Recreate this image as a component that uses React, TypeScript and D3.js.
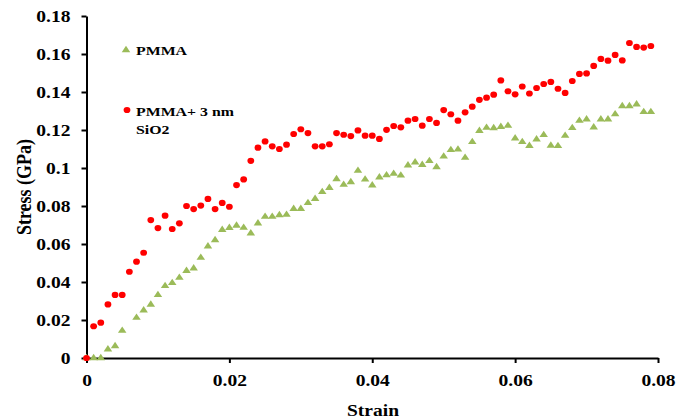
import * as d3 from 'd3';
import React, { useEffect, useRef } from 'react';

const strain = [
  0, 0.001, 0.002, 0.003, 0.004, 0.005, 0.006, 0.007, 0.008, 0.009,
  0.010, 0.011, 0.012, 0.013, 0.014, 0.015, 0.016, 0.017, 0.018, 0.019,
  0.020, 0.021, 0.022, 0.023, 0.024, 0.025, 0.026, 0.027, 0.028, 0.029,
  0.030, 0.031, 0.032, 0.033, 0.034, 0.035, 0.036, 0.037, 0.038, 0.039,
  0.040, 0.041, 0.042, 0.043, 0.044, 0.045, 0.046, 0.047, 0.048, 0.049,
  0.050, 0.051, 0.052, 0.053, 0.054, 0.055, 0.056, 0.057, 0.058, 0.059,
  0.060, 0.061, 0.062, 0.063, 0.064, 0.065, 0.066, 0.067, 0.068, 0.069,
  0.070, 0.071, 0.072, 0.073, 0.074, 0.075, 0.076, 0.077, 0.078, 0.079
];

// PMMA (green triangles), null = no point
const pmma = [
  0, 0, 0, 0.0046, 0.0063, 0.0144, null, 0.0212, 0.0251, 0.0281,
  0.0332, 0.0379, 0.0395, 0.0423, 0.0459, 0.0472, 0.0528, 0.0588, 0.0621, 0.0675,
  0.0685, 0.0697, 0.0686, 0.0656, 0.0709, 0.0744, 0.0744, 0.0752, 0.0754, 0.0785,
  0.0785, 0.0816, 0.0838, 0.0874, 0.0896, 0.0942, 0.0912, 0.0926, 0.0986, 0.0940,
  0.0909, 0.0951, 0.0962, 0.0970, 0.0961, 0.1014, 0.1030, 0.1017, 0.1037, 0.1005,
  0.1061, 0.1095, 0.1098, 0.1054, 0.1137, 0.1196, 0.1212, 0.1210, 0.1217, 0.1223,
  0.1156, 0.1137, 0.1117, 0.1151, 0.1174, 0.1118, 0.1116, 0.1170, 0.1211, 0.1249,
  0.1256, 0.1214, 0.1256, 0.1256, 0.1283, 0.1326, 0.1326, 0.1335, 0.1295, 0.1295
];

// PMMA + 3 nm SiO2 (red circles)
const pmmaSio2 = [
  0, 0.0167, 0.0186, 0.0282, 0.0332, 0.0332, 0.0454, 0.0507, 0.0554, 0.0726,
  0.0684, 0.0749, 0.0679, 0.0709, 0.0800, 0.0784, 0.0802, 0.0837, 0.0784, 0.0816,
  0.0796, 0.0910, 0.0940, 0.1038, 0.1107, 0.1140, 0.1114, 0.1100, 0.1123, 0.1179,
  0.1204, 0.1184, 0.1114, 0.1114, 0.1125, 0.1184, 0.1175, 0.1168, 0.1198, 0.1170,
  0.1170, 0.1153, 0.1201, 0.1221, 0.1214, 0.1249, 0.1258, 0.1223, 0.1258, 0.1237,
  0.1305, 0.1283, 0.1249, 0.1293, 0.1323, 0.1359, 0.1370, 0.1386, 0.1461, 0.1404,
  0.1388, 0.1429, 0.1392, 0.1421, 0.1442, 0.1453, 0.1417, 0.1395, 0.1458, 0.1495,
  0.1498, 0.1537, 0.1574, 0.1565, 0.1595, 0.1566, 0.1658, 0.1637, 0.1634, 0.1642
];

const xTicks = [0, 0.02, 0.04, 0.06, 0.08];
const xTickLabels = ["0", "0.02", "0.04", "0.06", "0.08"];
const yTicks = [0, 0.02, 0.04, 0.06, 0.08, 0.1, 0.12, 0.14, 0.16, 0.18];
const yTickLabels = ["0", "0.02", "0.04", "0.06", "0.08", "0.1", "0.12", "0.14", "0.16", "0.18"];

const FONT = '"Liberation Serif", "Times New Roman", serif';
const GREEN = "#9bbb59";
const RED = "#ff0000";
const STRETCH = 1.22;

const App: React.FC = () => {
  const svgRef = useRef<SVGSVGElement>(null);

  useEffect(() => {
    if (!svgRef.current) { return; }
    const svg = d3.select(svgRef.current);
    svg.selectAll("*").remove();

    const xScale = d3.scaleLinear().domain([0, 0.08]).range([86.5, 658]);
    const yScale = d3.scaleLinear().domain([0, 0.18]).range([358, 16]);

    // Y axis
    const yAxis = svg.append("g")
      .attr("transform", `translate(${xScale(0)},0)`)
      .call(d3.axisLeft(yScale)
        .tickValues(yTicks)
        .tickSize(5)
        .tickSizeOuter(0)
        .tickFormat((d, i) => yTickLabels[i])
      );
    yAxis.select(".domain").attr("stroke", "#000").attr("stroke-width", 2);
    yAxis.selectAll(".tick line").attr("stroke", "#000").attr("stroke-width", 2);
    yAxis.selectAll(".tick text")
      .attr("x", 0)
      .attr("dy", "0.35em")
      .attr("transform", `translate(-16,0) scale(${STRETCH},1)`)
      .attr("font-family", FONT)
      .attr("font-weight", "bold")
      .attr("font-size", 16)
      .attr("fill", "#000");

    // X axis
    const xAxis = svg.append("g")
      .attr("transform", `translate(0,${yScale(0)})`)
      .call(d3.axisBottom(xScale)
        .tickValues(xTicks)
        .tickSize(5)
        .tickSizeOuter(0)
        .tickFormat((d, i) => xTickLabels[i])
      );
    xAxis.select(".domain").attr("stroke", "#000").attr("stroke-width", 2);
    xAxis.selectAll(".tick line").attr("stroke", "#000").attr("stroke-width", 2);
    xAxis.selectAll(".tick text")
      .attr("y", 0)
      .attr("dy", "0.35em")
      .attr("transform", `translate(0,22) scale(${STRETCH},1)`)
      .attr("font-family", FONT)
      .attr("font-weight", "bold")
      .attr("font-size", 16)
      .attr("fill", "#000");

    // Axis titles
    svg.append("text")
      .attr("transform", `translate(31,187) rotate(-90) scale(1,${STRETCH})`)
      .attr("text-anchor", "middle")
      .attr("font-family", FONT)
      .attr("font-weight", "bold")
      .attr("font-size", 18)
      .text("Stress (GPa)");

    svg.append("text")
      .attr("transform", `translate(373,416) scale(${STRETCH},1)`)
      .attr("text-anchor", "middle")
      .attr("font-family", FONT)
      .attr("font-weight", "bold")
      .attr("font-size", 16)
      .text("Strain");

    const tri = d3.symbol().type(d3.symbolTriangle).size(26);

    // PMMA points
    const pmmaData = strain
      .map((s, i) => ({ s, v: pmma[i] }))
      .filter(dp => dp.v !== null) as { s: number, v: number }[];
    svg.append("g").selectAll("path")
      .data(pmmaData)
      .enter().append("path")
      .attr("d", tri()!)
      .attr("transform", dp => `translate(${xScale(dp.s)},${yScale(dp.v)}) scale(1.1,0.95)`)
      .attr("fill", GREEN);

    // PMMA + SiO2 points
    svg.append("g").selectAll("ellipse")
      .data(strain.map((s, i) => ({ s, v: pmmaSio2[i] })))
      .enter().append("ellipse")
      .attr("cx", dp => xScale(dp.s))
      .attr("cy", dp => yScale(dp.v))
      .attr("rx", 3.4)
      .attr("ry", 3.1)
      .attr("fill", RED);

    // Legend
    svg.append("path")
      .attr("d", tri()!)
      .attr("transform", `translate(126,50) scale(1.1,0.95)`)
      .attr("fill", GREEN);
    svg.append("ellipse")
      .attr("cx", 127).attr("cy", 110).attr("rx", 3.4).attr("ry", 3.1)
      .attr("fill", RED);

    const legendText = [
      { label: "PMMA", y: 55 },
      { label: "PMMA+ 3 nm", y: 116 },
      { label: "SiO2", y: 134 }
    ];
    svg.append("g").selectAll("text")
      .data(legendText)
      .enter().append("text")
      .attr("transform", dp => `translate(136,${dp.y}) scale(${STRETCH},1)`)
      .attr("font-family", FONT)
      .attr("font-weight", "bold")
      .attr("font-size", 13)
      .text(dp => dp.label);
  }, []);

  return (
    <svg
      ref={svgRef}
      width={676}
      height={420}
      style={{ position: 'absolute', left: 0, top: 0, background: '#fff' }}
    />
  );
};

export default App;
